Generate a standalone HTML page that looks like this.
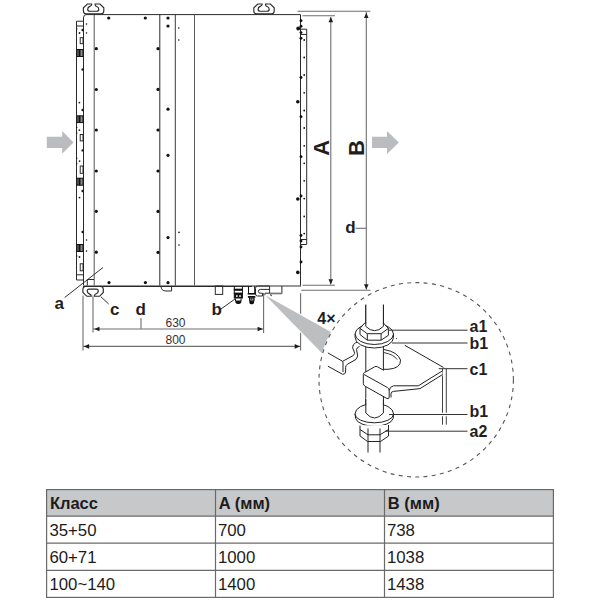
<!DOCTYPE html>
<html><head><meta charset="utf-8">
<style>
html,body{margin:0;padding:0;background:#fff;}
body{width:600px;height:600px;overflow:hidden;position:relative;font-family:"Liberation Sans",sans-serif;}
svg{position:absolute;left:0;top:0;}
</style></head>
<body>
<svg width="600" height="600" viewBox="0 0 600 600" font-family="Liberation Sans, sans-serif">
<!-- ===== gray arrows ===== -->
<g fill="#bbbcc0">
<polygon points="46.8,136.8 62.2,136.8 62.2,131 73.5,142.4 62.2,153.8 62.2,148 46.8,148"/>
<polygon points="372,136.8 387,136.8 387,131 398.8,142.4 387,154 387,148 372,148"/>
</g>

<!-- ===== main unit ===== -->
<g id="unit" fill="none" stroke="#2a2a2a" stroke-width="1">
<!-- body outline -->
<path d="M86 14.6 L300.5 14.6 L300.5 285.7"/>
<path d="M83.5 285 L83.5 18 Q83.5 14.6 86 14.6"/>
<path d="M83 286.2 L252 286.2" stroke-width="1.5"/><path d="M252 286 L301 286" stroke-width="1.2" stroke="#333"/>
<!-- inner verticals -->
<line x1="94.2" y1="14.6" x2="94.2" y2="285.5" stroke="#555"/>
<line x1="159.8" y1="14.6" x2="159.8" y2="285.5" stroke="#2a2a2a"/>
<line x1="175.3" y1="14.6" x2="175.3" y2="285.5" stroke="#3a3a3a"/>
<line x1="194.5" y1="14.6" x2="194.5" y2="285.5" stroke="#5a5a5a"/>
<!-- left strip -->
<path d="M83.5 21.2 L76.5 21.2 L76.5 280 L83.5 280"/>
<line x1="76.5" y1="26" x2="83.5" y2="26"/>
<line x1="76.5" y1="274.8" x2="83.5" y2="274.8"/>
<!-- right strip -->
<path d="M300.5 29.2 L306.7 29.2 L306.7 244.5 L300.5 244.5"/>
<line x1="300.5" y1="34.5" x2="306.7" y2="34.5"/>
<line x1="300.5" y1="239.5" x2="306.7" y2="239.5"/>
<!-- small rect bottom-left -->
<path d="M87.3 285.5 L87.3 279.5 L94 279.5"/>
<!-- bottom tab -->
<path d="M161 286 Q161 291 166 291 L171.6 291 L171.6 286"/>
<!-- top hooks -->
<defs><path id="hook" d="M8.3 4 L4 4 L0 7.8 L0 11 Q0 13.8 2.8 13.8 L17.6 13.8 Q20.4 13.8 20.4 11 L20.4 7.8 L16.6 4 L11.7 4 L11.7 4.8 Q11.7 6 13.3 6.5 Q15.4 7.2 15.4 9.2 Q15.4 11.2 13.3 11.2 L6.4 11.2 Q4.3 11.2 4.3 9.2 Q4.3 7.2 6.4 6.4 Q8.3 5.6 8.3 4.6 Z"/></defs>
<use href="#hook" transform="translate(83.4,0)" stroke-width="1.15"/>
<use href="#hook" transform="translate(253.8,0)" stroke-width="1.15"/>
<!-- bottom hook (flipped) -->
<use href="#hook" transform="translate(82.9,300.3) scale(1,-1)" stroke-width="1.15"/>
<!-- bottom fittings -->
<rect x="215.3" y="286" width="7.4" height="8.4"/>
<path d="M269.6 286 L257.5 286 Q255.5 286 255.5 288.5 L255.5 294 Q255.5 296 257.5 296 L262.5 296 L262.5 293.2 L260.2 293.2 Q258.4 293.2 258.4 291.4 Q258.4 289.4 260.4 289.4 L269.6 289.4"/>
<path d="M265 295.5 L265 293.2 L269.6 293.2 L269.6 286"/>
<path d="M269.6 293.6 L281.9 293.6 L281.9 286"/>
<path d="M270.8 294 L270.8 295.6 L272 295.6" stroke-width="0.8"/>
</g>
<rect x="270" y="292.6" width="11.6" height="1.6" fill="#777"/>
<!-- fittings -->
<g fill="none" stroke="#111" stroke-width="1">
<path d="M234.3 286 L234.3 298.5 M242.4 286 L242.4 298.5"/>
<path d="M235.5 298.5 L235.5 301 M241 298.5 L241 301"/>
<path d="M248.5 286 L248.5 293.5 M254.7 286 L254.7 293.5"/>
<path d="M249.6 297.5 L249.6 301 M253.8 297.5 L253.8 301"/>
</g>
<g fill="#111">
<rect x="233.8" y="288.7" width="9.1" height="2.1"/>
<rect x="233.8" y="292.6" width="9.1" height="1.4"/>
<rect x="234.3" y="293.6" width="8.1" height="4.9"/>
<path d="M235.2 300.4 L241.4 300.4 L241.2 302.6 Q240.8 304 239 304 L237.6 304 Q235.8 304 235.5 302.6 Z"/>
<rect x="247.7" y="293" width="7.8" height="1.6"/>
<rect x="247.9" y="296" width="7.4" height="1.8"/>
<rect x="249" y="297.8" width="5.4" height="2.8"/>
<path d="M249.2 300.8 L254.2 300.8 L254 302.8 Q253.6 304.3 252 304.3 L251.4 304.3 Q249.7 304.3 249.4 302.8 Z"/>
</g>
<g fill="#fff">
<rect x="236" y="295.3" width="1.7" height="1.5"/>
<rect x="239.2" y="295.3" width="1.7" height="1.5"/>
<rect x="250.2" y="298.6" width="1.2" height="1.1"/>
<rect x="252.2" y="298.6" width="1.2" height="1.1"/>
</g>

<!-- dots -->
<g fill="#111">
<!-- x=96 column -->
<circle cx="96.3" cy="48.7" r="1.6"/><circle cx="96.3" cy="89.5" r="1.6"/><circle cx="96.3" cy="130" r="1.6"/>
<circle cx="96.3" cy="171" r="1.6"/><circle cx="96.3" cy="211.3" r="1.6"/><circle cx="96.3" cy="252.2" r="1.6"/>
<!-- x=158 column -->
<circle cx="158" cy="48.7" r="1.6"/><circle cx="158" cy="89.4" r="1.6"/><circle cx="158" cy="130" r="1.6"/>
<circle cx="158" cy="171" r="1.6"/><circle cx="158" cy="211.4" r="1.6"/><circle cx="158" cy="252.4" r="1.6"/>
<!-- x=168 column -->
<circle cx="168" cy="18" r="1.6"/><circle cx="168" cy="26" r="1.6"/><circle cx="168" cy="109.2" r="1.6"/>
<circle cx="168" cy="155.3" r="1.6"/><circle cx="168" cy="237.6" r="1.6"/><circle cx="168" cy="282.7" r="1.6"/>
<!-- top/bottom rows -->
<circle cx="108.7" cy="18" r="1.6"/><circle cx="145.3" cy="18" r="1.6"/>
<circle cx="109" cy="282.6" r="1.6"/><circle cx="145.4" cy="282.6" r="1.6"/>
<!-- right big dots -->
<circle cx="298.2" cy="28.5" r="1.9"/><circle cx="297.8" cy="101.7" r="1.8"/><circle cx="297.8" cy="199" r="1.8"/><circle cx="297.8" cy="272.4" r="1.8"/>
<!-- half dots on right line -->
<circle cx="301" cy="26.3" r="1.45"/><circle cx="301" cy="32.6" r="1.45"/><circle cx="301" cy="116.7" r="1.45"/><circle cx="301" cy="156.7" r="1.45"/><circle cx="301" cy="196" r="1.45"/><circle cx="301" cy="235.5" r="1.45"/><circle cx="301" cy="241" r="1.45"/><circle cx="301" cy="247" r="1.45"/><circle cx="301" cy="20.8" r="1.45"/><circle cx="301" cy="38.2" r="1.45"/><circle cx="301" cy="77.5" r="1.45"/><circle cx="301" cy="262" r="1.45"/>
<!-- small dots in right strip -->
<circle cx="304.2" cy="40" r="0.9"/><circle cx="304.2" cy="57.5" r="0.9"/><circle cx="304.2" cy="75" r="0.9"/>
<circle cx="304.2" cy="92.8" r="0.9"/><circle cx="304.2" cy="110.5" r="0.9"/><circle cx="304.2" cy="128" r="0.9"/>
<circle cx="304.2" cy="145.8" r="0.9"/><circle cx="304.2" cy="163.3" r="0.9"/><circle cx="304.2" cy="180.8" r="0.9"/>
<circle cx="304.2" cy="198.6" r="0.9"/><circle cx="304.2" cy="216.4" r="0.9"/><circle cx="304.2" cy="233.6" r="0.9"/>
<!-- small dots x=179 -->
<circle cx="178.8" cy="28" r="0.8"/><circle cx="178.8" cy="40" r="0.8"/><circle cx="179" cy="232.4" r="0.8"/><circle cx="179" cy="245" r="0.8"/>
<!-- small dots x=86.5 -->
<circle cx="86.5" cy="24" r="0.8"/><circle cx="86.5" cy="33" r="0.8"/><circle cx="86.5" cy="240" r="0.8"/><circle cx="86.5" cy="251" r="0.8"/>
</g>
<!-- left strip connectors -->
<g id="conn">
<g fill="#8a8a8a" stroke="#111" stroke-width="1">
<rect x="77" y="49.5" width="6" height="7"/>
<rect x="77" y="115.8" width="6" height="6.8"/>
<rect x="77" y="178.2" width="6" height="7"/>
<rect x="77" y="244.5" width="6" height="7"/>
</g>
<g fill="#111">
<rect x="78.5" y="49.5" width="2" height="7"/>
<rect x="78.5" y="115.8" width="2" height="6.8"/>
<rect x="78.5" y="178.2" width="2" height="7"/>
<rect x="78.5" y="244.5" width="2" height="7"/>
</g>
</g>
<g fill="#1a1a1a">
<circle cx="79.5" cy="33" r="0.9"/><circle cx="79.4" cy="102.6" r="0.9"/><circle cx="79.4" cy="130.1" r="0.9"/><circle cx="79.6" cy="161.1" r="0.9"/><circle cx="79.5" cy="197.6" r="0.9"/><circle cx="79.5" cy="257" r="0.9"/>
<circle cx="82.6" cy="30" r="1.2"/><circle cx="82.6" cy="69.5" r="1.2"/><circle cx="82.6" cy="110" r="1.2"/><circle cx="82.6" cy="150.4" r="1.2"/><circle cx="82.6" cy="191" r="1.2"/><circle cx="82.6" cy="232" r="1.2"/>
<circle cx="76.8" cy="127.4" r="0.7"/><circle cx="76.8" cy="133" r="0.7"/><circle cx="76.8" cy="158.3" r="0.7"/><circle cx="76.8" cy="163.8" r="0.7"/><circle cx="76.8" cy="29" r="0.7"/><circle cx="76.8" cy="256" r="0.7"/>
</g>
<g fill="none" stroke="#1a1a1a" stroke-width="0.9">
<rect x="80.2" y="37.7" width="2.8" height="6"/><rect x="80.2" y="134.5" width="2.8" height="6.4"/><rect x="80.2" y="166" width="2.8" height="7.3"/><rect x="80.2" y="263.8" width="2.8" height="7"/>
</g>

<!-- ===== dimension lines ===== -->
<g stroke="#6e6e6e" stroke-width="1.1" fill="none">
<!-- top extension lines -->
<line x1="297.5" y1="11.2" x2="370.4" y2="11.2"/>
<line x1="302.5" y1="15.8" x2="335" y2="15.8"/>
<!-- bottom extension lines -->
<line x1="302.7" y1="285.3" x2="335" y2="285.3"/>
<line x1="301.3" y1="290.2" x2="370.5" y2="290.2"/>
<!-- A and B vertical -->
<line x1="330.8" y1="17" x2="330.8" y2="284.6"/>
<line x1="366.3" y1="12" x2="366.3" y2="289.6"/>
<!-- d leader right -->
<line x1="355.5" y1="228.3" x2="366.3" y2="228.3"/>
<!-- bottom ext -->
<line x1="83" y1="295.5" x2="83" y2="350.4"/>
<line x1="93" y1="295.5" x2="93" y2="332.5"/>
<line x1="263.6" y1="293" x2="263.6" y2="333"/>
<line x1="300.6" y1="293.2" x2="300.6" y2="350.4"/>
<!-- 630/800 -->
<line x1="93" y1="329" x2="263.6" y2="329"/>
<line x1="83" y1="346.4" x2="300.6" y2="346.4"/>
<!-- d leader bottom -->
<line x1="141" y1="318" x2="141" y2="328.8"/>
</g>
<g fill="#1e1e1e">
<polygon points="330.8,17 328.5,22.3 333.1,22.3"/>
<polygon points="330.8,284.6 328.5,279.2 333.1,279.2"/>
<polygon points="366.3,12.8 364,18 368.6,18"/>
<polygon points="366.3,289.6 364,284.2 368.6,284.2"/>
<polygon points="94.2,329 99.5,326.7 99.5,331.3"/>
<polygon points="262.9,329 257.6,326.7 257.6,331.3"/>
<polygon points="83.8,346.4 89.1,344.1 89.1,348.7"/>
<polygon points="300,346.4 294.7,344.1 294.7,348.7"/>
</g>
<!-- labels leaders -->
<g stroke="#333" stroke-width="1">
<line x1="64.7" y1="297.5" x2="103" y2="267.5"/>
<line x1="100.8" y1="296.7" x2="108.7" y2="304"/>
<line x1="221" y1="309" x2="235" y2="299"/>
</g>

<!-- funnel -->
<path d="M265.3 295.3 L330.9 331.9 A97.2 97.2 0 0 0 321.8 352.9 Z" fill="#bdbec0" stroke="#fff" stroke-width="2.2" paint-order="stroke" stroke-linejoin="miter"/>

<!-- labels -->
<g font-weight="bold" fill="#1f1f1f" font-size="17">
<text x="54.5" y="309.2">a</text>
<text x="110" y="315.2">c</text>
<text x="135.5" y="315.2">d</text>
<text x="211.5" y="315">b</text>
<text x="345.3" y="232.8">d</text>
</g>
<g font-weight="bold" fill="#1f1f1f" font-size="22">
<text transform="translate(328.5,155.8) rotate(-90)">A</text>
<text transform="translate(363.6,156) rotate(-90)">B</text>
</g>
<text x="317.3" y="324" font-weight="bold" font-size="16" fill="#1f1f1f">4×</text>
<g font-size="12" fill="#333">
<text x="165.5" y="326.8">630</text>
<text x="165.5" y="344.3">800</text>
</g>

<!-- ===== detail circle ===== -->
<circle cx="416.2" cy="379.8" r="97.2" fill="none" stroke="#555" stroke-width="1.1" stroke-dasharray="4,4.3"/>
<g id="detail" fill="none" stroke="#222" stroke-width="1" stroke-linejoin="round">
<!-- c1 bracket back edge and right vertical -->
<path d="M404.8 345.3 L443.5 367.5"/><circle cx="396.5" cy="338.6" r="0.6" fill="#333" stroke="none"/>
<path d="M442.5 368.7 L442.5 424.7 M446.3 368.7 L446.3 424.7" stroke="#444"/>
<!-- slot end in bracket -->
<path d="M384 349.5 Q398 352 400.5 360 Q401 368.5 388 369.3 L383 369.3"/><path d="M384 352.6 Q394 354.5 397 359.5" stroke-width="0.9"/>
<!-- rod (full) -->
<path d="M365.8 304.7 L365.8 416 M383.4 304.7 L383.4 416"/>
<!-- left bracket -->
<path fill="#fff" d="M327.9 352.9 L342.6 361.3 L353.2 355.6 Q355.6 353.8 354 351 Q351.6 347.6 353.2 345 Q355 342.5 358 341.8 L358 346 Q356.4 346.8 355.8 348.6 Q355.8 350 357 351.4 Q358.6 355 356 358.6 L346.8 364.2 Q345.2 365.4 345.2 367.6 L345.2 372 Q345.2 374.5 342.6 374.3 L327.9 366.2 Z" stroke="none"/>
<path d="M327.9 352.9 L342.6 361.3 L353.2 355.6 Q355.6 353.8 354 351 Q351.6 347.6 353.2 345 Q355 342.5 358 341.8"/>
<path d="M342.6 361.3 Q343 362 343 363 L343 372"/>
<path d="M327.9 366.2 L342.6 374.3 Q345.2 374.5 345.6 372 L345.6 367.6 Q345.6 365.4 347.5 364.2 L356 359.4 Q358.8 356.5 357 352 Q355.8 349.4 357.5 347.6 L359.5 346.5"/>
<!-- upper washer -->
<path fill="#fff" d="M355.1 334 A19.2 10.5 0 0 1 393.5 334 L393.5 337.5 A19.2 10.5 0 0 1 355.1 337.5 Z"/>
<path d="M355.1 334 A19.2 10.5 0 0 0 393.5 334"/>
<!-- upper nut -->
<path fill="#fff" d="M360 328.4 L364.7 323 L383.4 323 L388.4 328.4 L388.4 335.3 L381.1 340.2 L367.3 340.2 L360 334.5 Z"/>
<path d="M360 328.4 L367.3 333.7 L381.1 333.7 L388.4 328.4 M367.3 333.7 L367.3 340.2 M381.1 333.7 L381.1 340.2"/>
<!-- rod top visible above nut -->
<path fill="#fff" stroke="none" d="M366.3 304.7 L382.9 304.7 L382.9 327 L366.3 327 Z"/>
<path d="M365.8 304.7 L365.8 326.4 Q374.5 335 383.4 326.4 L383.4 304.7"/>
<!-- fork block (c1 front) -->
<path fill="#fff" d="M363.3 374 Q363.3 372.8 364.5 372.4 L374.6 366.6 Q376 366 377.4 366.8 L388 373 L383.4 373 Z" stroke="none"/>
<path fill="#fff" d="M363.3 373.5 L375 366.8 L390 375 L420 386 L442.5 370.8 L442.5 376 L421 390.5 L392.5 391.5 Q391 392 391 394 L391 397.5 Q391 399.8 388.5 399 L365.2 386.3 Q363.3 385.3 363.3 383.5 Z" stroke="none"/>
<path d="M363.3 383.5 L363.3 374.5 Q363.3 373 364.5 372.6 L374.6 366.8 Q376 366 377.5 366.8 L383.5 370.2"/>
<path d="M364 374.5 L387.6 387.6 Q389.2 388.6 389.2 390.5 L389.2 397 Q389.2 399.6 386.8 398.4 L365.2 386.3 Q363.3 385.3 363.3 383.5"/>
<path d="M389.2 390.5 Q389.6 386.6 393.5 385.8 L418.3 385.8 L442.5 370.8"/>
<path d="M391 397.5 L391 393.8 Q391 391.6 393.5 391.4 L420 388.6 L442.5 374.6"/>
<!-- lower washer -->
<path fill="#fff" d="M355 414 A19.3 10.6 0 0 1 393.6 414 L393.2 418.4 A19 9.2 0 0 1 355.6 418.4 Z"/>
<path d="M355 414 A19.3 8.8 0 0 0 393.6 414"/>
<!-- rod bottom inside lower washer -->
<path fill="#fff" stroke="none" d="M366.3 398 L382.9 398 L382.9 413 L366.3 413 Z"/>
<path d="M365.8 399 L365.8 413 Q374.5 423 383.4 413 L383.4 399.5"/>
<!-- lower nut -->
<path fill="#fff" d="M360 425.5 L360 436 L367.5 441.5 L380.5 441.5 L388.5 436 L388.5 425 Z" stroke="none"/>
<path d="M360 425.5 L360 436 L367.5 441.5 L380.5 441.5 L388.5 436 L388.5 425"/>
<path d="M360 429.5 L368 434.8 L380 434.8 L388.5 429.5 M368 428.5 L368 441.5 M380 428.5 L380 441.5"/>
<!-- thin rod below -->
<path d="M368 441.5 L368 452.5 M380 441.5 L380 452.5"/>
<!-- c1 diagonal leader from bracket -->
</g>
<!-- detail labels -->
<g stroke="#333" stroke-width="1">
<line x1="389" y1="330.2" x2="467.5" y2="330.2"/>
<line x1="392" y1="343" x2="467.5" y2="343"/>
<line x1="438.7" y1="368.7" x2="467.5" y2="368.7"/>
<line x1="400" y1="414.5" x2="460" y2="414.5" stroke="#fff" stroke-width="3.5"/><line x1="389" y1="414.5" x2="467.5" y2="414.5"/>
<line x1="385" y1="431.2" x2="467.5" y2="431.2"/>
</g>
<g font-weight="bold" fill="#1f1f1f" font-size="16">
<text x="469.5" y="331.6">a1</text>
<text x="469.5" y="348.7">b1</text>
<text x="469.5" y="374.7">c1</text>
<text x="469.5" y="416.7">b1</text>
<text x="469.5" y="437">a2</text>
</g>

<!-- ===== table ===== -->
<rect x="46.5" y="489.5" width="507" height="26.7" fill="#c7c8ca"/>
<g stroke="#6a6a6a" stroke-width="1.2" fill="none">
<rect x="46.6" y="489.6" width="506.8" height="107.8"/>
<line x1="46.6" y1="516.2" x2="553.4" y2="516.2"/>
<line x1="46.6" y1="543.2" x2="553.4" y2="543.2"/>
<line x1="46.6" y1="570.3" x2="553.4" y2="570.3"/>
<line x1="215.5" y1="489.6" x2="215.5" y2="597.4"/>
<line x1="384.5" y1="489.6" x2="384.5" y2="597.4"/>
</g>
<g font-size="16.5" fill="#1c1c1c" font-weight="bold">
<text x="49.9" y="508.5">Класс</text>
<text x="218.8" y="508.5">A (мм)</text>
<text x="387.8" y="508.5">B (мм)</text>
</g>
<g font-size="16.8" fill="#1c1c1c">
<text x="49.4" y="536">35+50</text>
<text x="217.9" y="536">700</text>
<text x="386.9" y="536">738</text>
<text x="49.4" y="563">60+71</text>
<text x="217.9" y="563">1000</text>
<text x="386.9" y="563">1038</text>
<text x="49.4" y="590">100~140</text>
<text x="217.9" y="590">1400</text>
<text x="386.9" y="590">1438</text>
</g>
</svg>
</body></html>
